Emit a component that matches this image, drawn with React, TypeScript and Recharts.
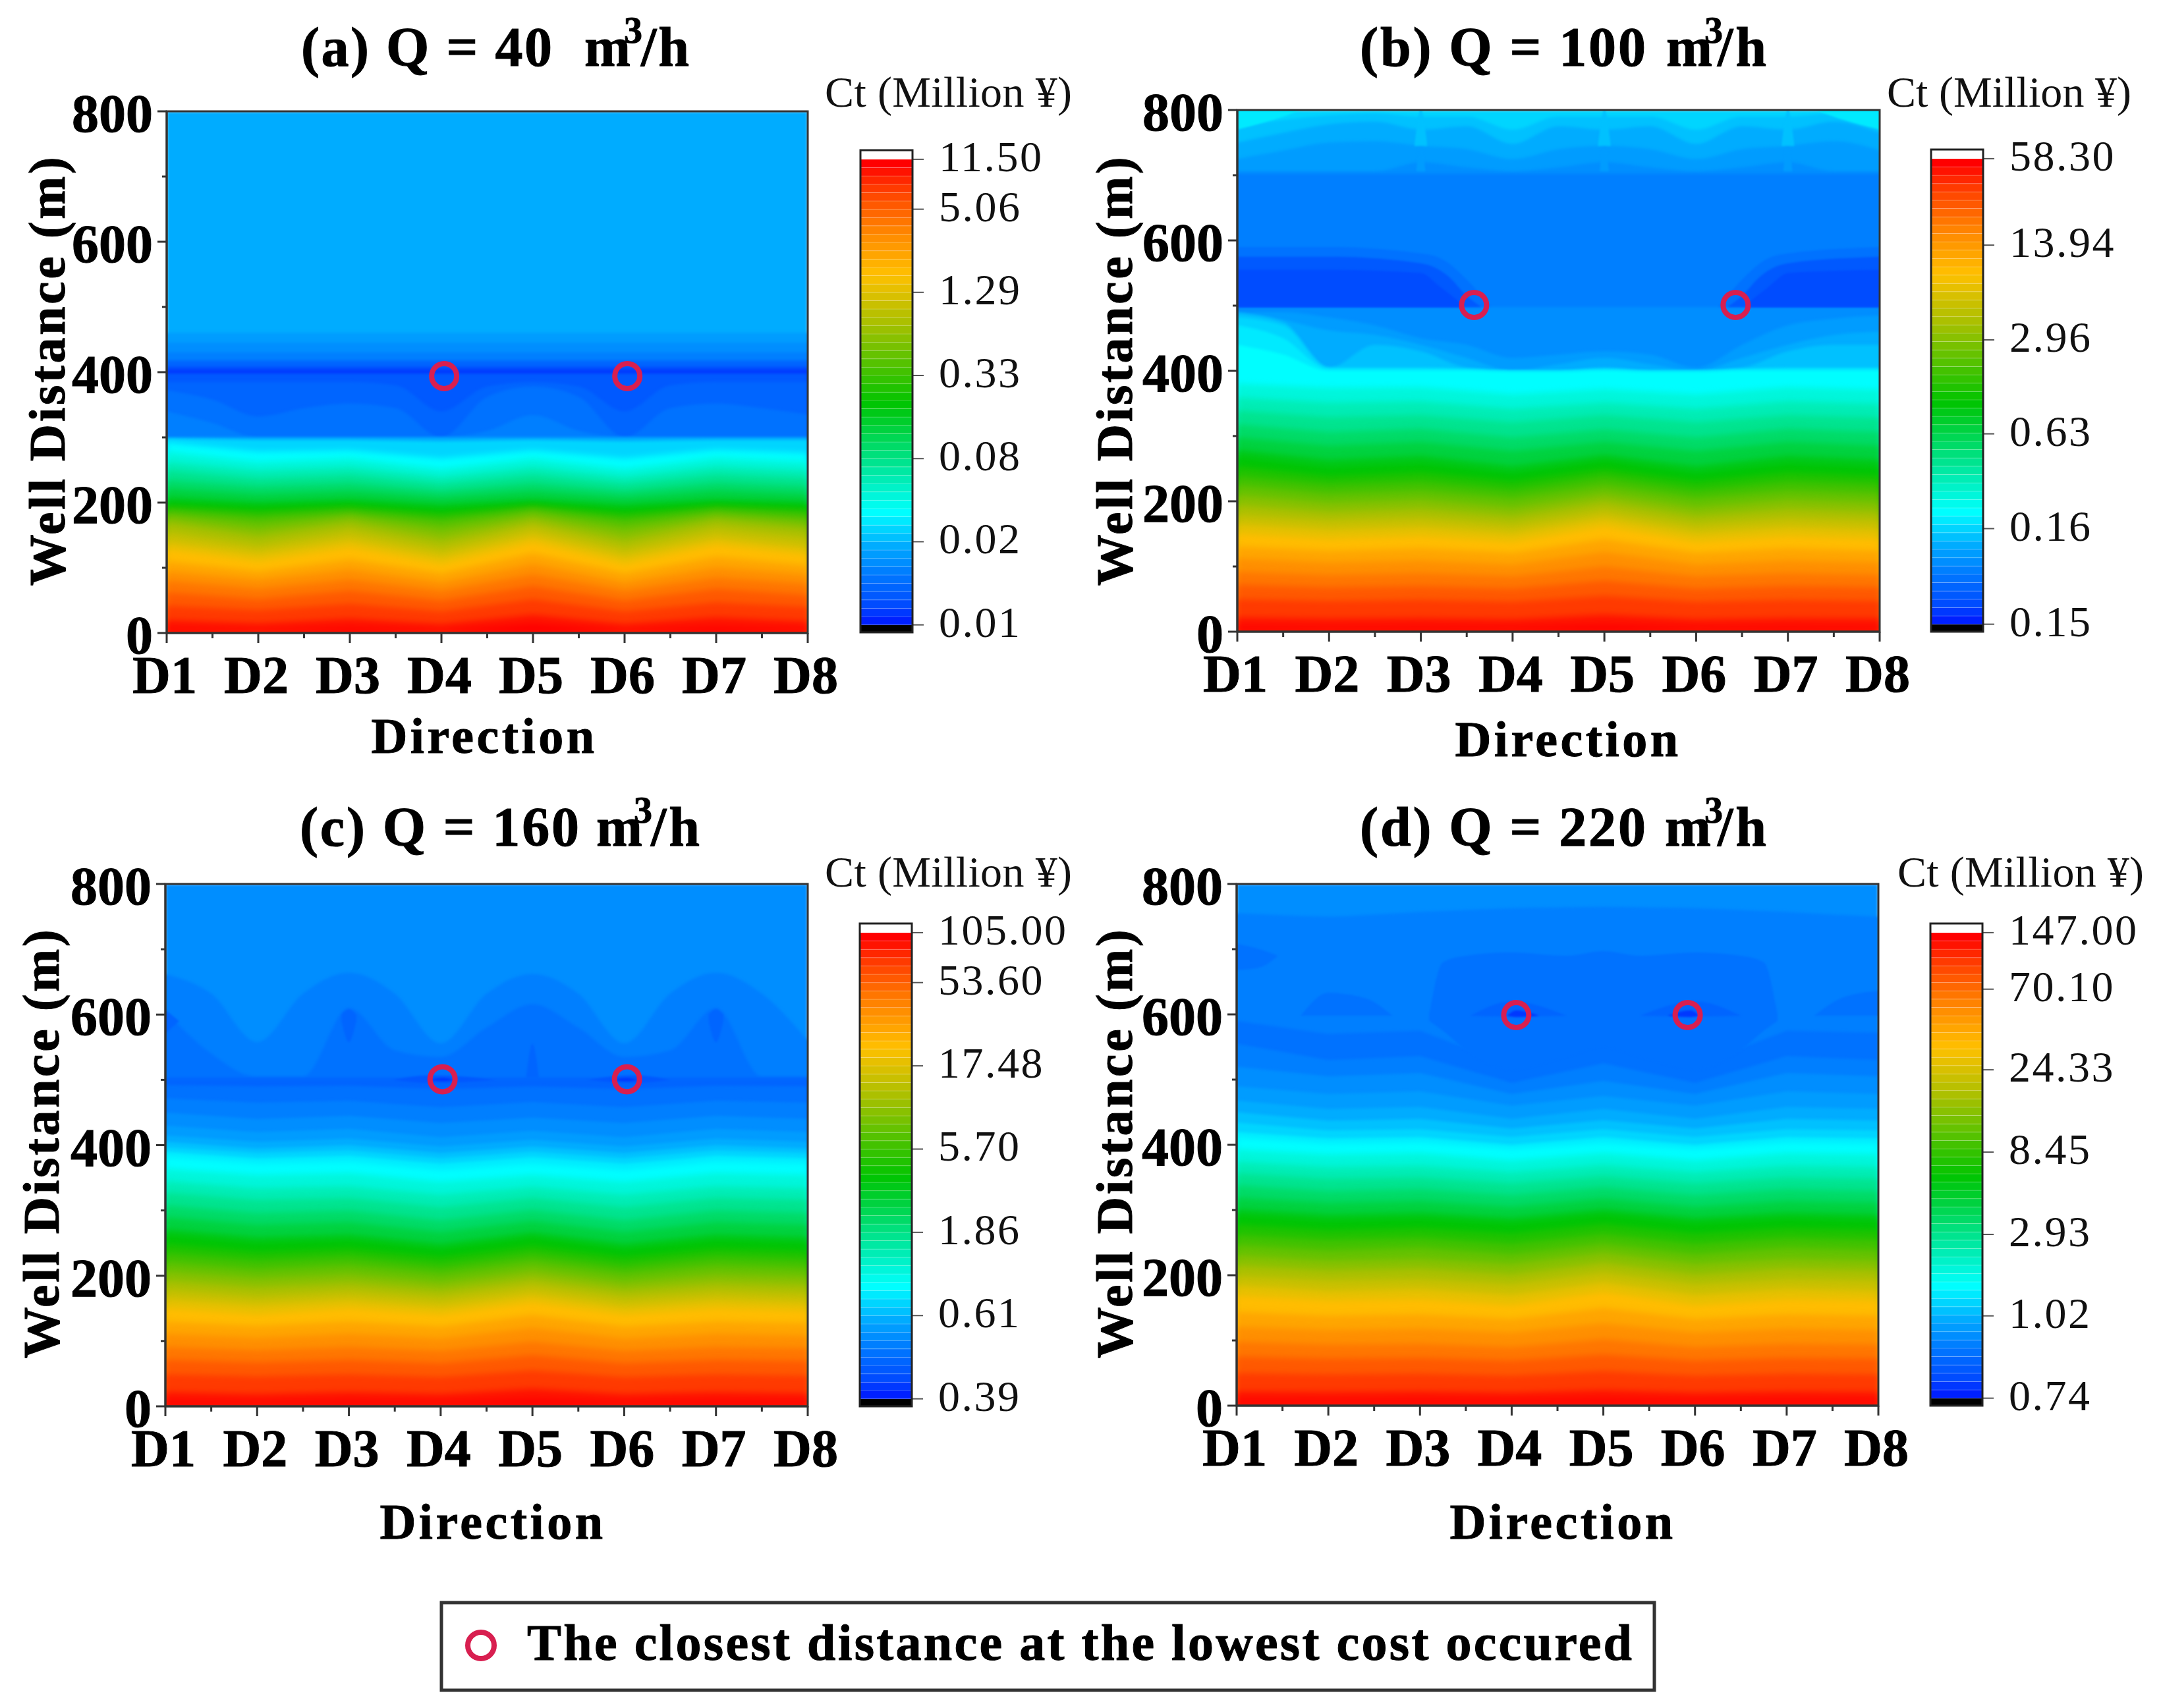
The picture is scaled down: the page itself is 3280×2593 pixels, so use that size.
import { Area, Bar, BarChart, ComposedChart, ReferenceArea, Scatter, XAxis, YAxis } from "recharts";

const directions = ["D1", "D2", "D3", "D4", "D5", "D6", "D7", "D8"];
const wholeSteps = [1, 2, 3, 4, 5, 6, 7, 8];
const halfSteps = [1, 1.5, 2, 2.5, 3, 3.5, 4, 4.5, 5, 5.5, 6, 6.5, 7, 7.5, 8];
const distanceTicks = [0, 100, 200, 300, 400, 500, 600, 700, 800];

// colour bar levels run 0 (blue) .. 55 (red)
const rampAnchors: [number, string][] = [
  [0, "#0020ff"], [0.03, "#0048ff"], [0.1, "#0078ff"], [0.16, "#00a8ff"], [0.237, "#00ffff"], [0.33, "#00e8a0"],
  [0.476, "#00c400"], [0.65, "#a8c000"], [0.757, "#ffc000"], [0.86, "#ff8000"], [0.94, "#ff4000"], [1, "#ff0000"],
];

// upper rows hold a distance at each half step, lower rows at each whole step
const aUpperLevels = [9, 8, 7, 6, 4, 2, 1, 3, 4, 5, 6];
const aUpper = [
  [800, 800, 800, 800, 800, 800, 800, 800, 800, 800, 800, 800, 800, 800, 800],
  [460, 460, 460, 460, 460, 460, 460, 460, 460, 460, 460, 460, 460, 460, 460],
  [445, 445, 445, 445, 445, 445, 445, 445, 445, 445, 445, 445, 445, 445, 445],
  [430, 430, 430, 430, 430, 430, 430, 430, 430, 430, 430, 430, 430, 430, 430],
  [418, 418, 418, 418, 418, 418, 418, 418, 418, 418, 418, 418, 418, 418, 418],
  [408, 408, 408, 408, 408, 408, 408, 408, 408, 408, 408, 408, 408, 408, 408],
  [403, 403, 403, 403, 403, 403, 403, 403, 403, 403, 403, 403, 403, 403, 403],
  [398, 398, 398, 398, 398, 398, 398, 398, 398, 398, 398, 398, 398, 398, 398],
  [385, 385, 385, 385, 385, 380, 340, 378, 385, 378, 340, 380, 385, 385, 385],
  [372, 358, 332, 345, 352, 345, 300, 362, 378, 362, 300, 345, 352, 345, 335],
  [340, 322, 300, 300, 300, 300, 300, 310, 334, 310, 300, 300, 300, 300, 300],
];
const aLowerLevels = [9, 11, 13, 15, 17, 19, 21, 23, 25, 26, 28, 30, 32, 34, 36, 38, 40, 42, 44, 46, 48, 50, 52, 54, 55];
const aLower = [
  [300, 300, 300, 300, 300, 300, 300, 300],
  [298, 296, 296, 294, 296, 294, 296, 296],
  [292, 278, 280, 268, 280, 268, 281, 276],
  [278, 263, 268, 252, 268, 252, 269, 263],
  [263, 250, 255, 240, 255, 240, 256, 250],
  [250, 237, 243, 229, 243, 229, 244, 238],
  [235, 225, 230, 218, 230, 218, 231, 225],
  [222, 213, 218, 208, 218, 208, 219, 213],
  [208, 200, 205, 197, 205, 197, 205, 201],
  [200, 195, 199, 191, 199, 191, 199, 196],
  [195, 188, 194, 184, 196, 184, 195, 190],
  [190, 181, 189, 177, 192, 177, 191, 184],
  [184, 172, 183, 168, 187, 168, 185, 176],
  [177, 160, 177, 156, 180, 156, 179, 168],
  [168, 148, 168, 143, 172, 143, 171, 158],
  [154, 134, 156, 130, 162, 130, 159, 145],
  [140, 122, 143, 118, 150, 118, 146, 131],
  [128, 110, 131, 106, 139, 106, 135, 120],
  [110, 95, 113, 92, 122, 92, 117, 104],
  [95, 82, 98, 78, 106, 78, 101, 90],
  [80, 68, 82, 65, 90, 65, 85, 75],
  [62, 52, 65, 50, 72, 50, 68, 58],
  [42, 35, 45, 33, 52, 33, 47, 40],
  [20, 15, 22, 14, 28, 14, 24, 18],
  [6, 3, 8, 3, 14, 3, 9, 5],
];
const aBlobLevels: number[] = [];
const aBlobs: number[][][] = [];
const aLowest = [{ x: 4.03, y: 394 }, { x: 6.03, y: 394 }];
const aScaleLabels = ["0.01", "0.02", "0.08", "0.33", "1.29", "5.06", "11.50"];
const aScaleTicks = [0, 10, 20, 30, 40, 50, 56];

const bUpperLevels = [11, 10, 9, 8, 7, 6, 7, 8, 9, 10, 11, 12, 13];
const bUpper = [
  [800, 800, 800, 800, 800, 800, 800, 800, 800, 800, 800, 800, 800, 800, 800],
  [775, 785, 792, 795, 790, 790, 770, 790, 790, 790, 770, 790, 790, 795, 785],
  [750, 765, 778, 782, 770, 775, 748, 775, 770, 775, 748, 775, 770, 782, 765],
  [725, 738, 750, 752, 745, 740, 725, 740, 745, 740, 725, 740, 745, 752, 738],
  [706, 706, 706, 706, 720, 712, 706, 712, 720, 712, 706, 712, 720, 706, 706],
  [702, 702, 702, 702, 702, 702, 702, 702, 702, 702, 702, 702, 702, 702, 702],
  [498, 498, 498, 498, 498, 498, 498, 498, 498, 498, 498, 498, 498, 498, 498],
  [490, 490, 482, 470, 450, 440, 420, 425, 430, 425, 405, 440, 470, 480, 485],
  [490, 478, 462, 455, 440, 420, 400, 410, 420, 410, 400, 420, 440, 455, 460],
  [488, 475, 405, 440, 430, 405, 400, 400, 405, 400, 400, 405, 430, 440, 440],
  [482, 470, 405, 405, 405, 403, 400, 400, 403, 400, 400, 403, 405, 405, 405],
  [470, 450, 403, 403, 403, 402, 400, 400, 402, 400, 400, 402, 403, 403, 403],
  [440, 425, 400, 400, 400, 400, 398, 398, 400, 398, 398, 400, 400, 400, 400],
];
const bLowerLevels = [15, 17, 19, 21, 23, 25, 26, 28, 30, 32, 34, 36, 38, 40, 42, 44, 46, 48, 50, 52, 54, 55];
const bLower = [
  [380, 374, 375, 364, 372, 364, 375, 371],
  [359, 351, 353, 342, 351, 342, 353, 349],
  [339, 329, 332, 321, 332, 321, 332, 328],
  [318, 306, 311, 298, 310, 298, 311, 306],
  [298, 285, 291, 277, 291, 277, 291, 285],
  [279, 264, 270, 254, 271, 254, 270, 264],
  [268, 252, 258, 243, 262, 243, 258, 252],
  [253, 238, 244, 230, 249, 230, 244, 238],
  [238, 225, 230, 217, 237, 217, 230, 225],
  [224, 211, 216, 204, 224, 204, 216, 211],
  [209, 197, 202, 190, 211, 190, 202, 197],
  [194, 183, 188, 177, 199, 177, 188, 183],
  [179, 170, 174, 164, 186, 164, 174, 170],
  [165, 156, 160, 151, 174, 151, 160, 156],
  [150, 142, 146, 138, 161, 138, 146, 142],
  [131, 124, 128, 121, 142, 121, 128, 124],
  [112, 106, 109, 103, 122, 103, 109, 106],
  [92, 87, 90, 85, 100, 85, 90, 87],
  [72, 68, 70, 66, 78, 66, 70, 68],
  [50, 47, 49, 46, 55, 46, 49, 47],
  [22, 20, 21, 19, 26, 19, 21, 20],
  [8, 6, 7, 6, 10, 6, 7, 6],
];
// blobs are [direction, low, high] outlines of closed patches
const bBlobLevels = [8, 8, 8, 10, 10, 10, 12, 12, 5, 5, 3, 3, 2, 2];
const bBlobs = [
  [[2.95, 706, 706], [3, 706, 760], [3.05, 706, 706]],
  [[4.95, 706, 706], [5, 706, 760], [5.05, 706, 706]],
  [[6.95, 706, 706], [7, 706, 760], [7.05, 706, 706]],
  [[2.93, 745, 745], [3, 745, 800], [3.07, 745, 745]],
  [[4.93, 745, 745], [5, 745, 800], [5.07, 745, 745]],
  [[6.93, 745, 745], [7, 745, 800], [7.07, 745, 745]],
  [[1, 770, 800], [1.5, 790, 800], [1.7, 800, 800]],
  [[7.3, 800, 800], [7.6, 785, 800], [8, 770, 800]],
  [[1, 498, 590], [2, 498, 590], [3, 498, 580], [3.25, 498, 570], [3.5, 498, 540], [3.75, 498, 500]],
  [[6.25, 498, 500], [6.5, 498, 540], [6.75, 498, 570], [7, 498, 580], [8, 498, 590]],
  [[1, 498, 575], [2, 498, 575], [3, 498, 565], [3.3, 498, 545], [3.5, 498, 515], [3.65, 498, 499]],
  [[6.35, 498, 499], [6.5, 498, 515], [6.7, 498, 545], [7, 498, 565], [8, 498, 575]],
  [[1, 498, 555], [2, 498, 555], [3, 498, 550], [3.2, 498, 530], [3.45, 498, 502]],
  [[6.55, 498, 502], [6.8, 498, 530], [7, 498, 550], [8, 498, 555]],
];
const bLowest = [{ x: 3.58, y: 501 }, { x: 6.43, y: 501 }];
const bScaleLabels = ["0.15", "0.16", "0.63", "2.96", "13.94", "58.30"];
const bScaleTicks = [0, 11.5, 22.9, 34.2, 45.6, 56];

const cUpperLevels = [7, 6, 5, 4];
const cUpper = [
  [800, 800, 800, 800, 800, 800, 800, 800, 800, 800, 800, 800, 800, 800, 800],
  [662, 632, 558, 632, 664, 632, 556, 632, 662, 632, 556, 632, 664, 632, 560],
  [605, 540, 505, 505, 610, 545, 535, 580, 616, 580, 535, 545, 610, 505, 505],
  [503, 503, 503, 503, 503, 503, 503, 503, 503, 503, 503, 503, 503, 503, 503],
];
const cLowerLevels = [5, 6, 7, 8, 9, 10, 11, 12, 13, 15, 17, 19, 21, 23, 25, 26, 28, 30, 32, 34, 36, 38, 40, 42, 44, 46, 48, 50, 52, 54, 55];
const cLower = [
  [492, 490, 491, 486, 490, 486, 491, 490],
  [472, 465, 468, 458, 466, 458, 468, 465],
  [450, 440, 445, 434, 442, 434, 445, 440],
  [430, 420, 425, 412, 422, 412, 425, 420],
  [415, 405, 410, 398, 408, 398, 410, 405],
  [405, 395, 400, 388, 398, 388, 400, 395],
  [397, 388, 392, 380, 390, 380, 392, 388],
  [390, 380, 384, 372, 382, 372, 384, 380],
  [382, 372, 375, 362, 372, 362, 375, 372],
  [364, 354, 357, 344, 354, 344, 357, 354],
  [345, 334, 337, 324, 336, 324, 337, 334],
  [327, 316, 319, 305, 319, 305, 319, 316],
  [308, 296, 300, 285, 301, 285, 300, 296],
  [290, 278, 282, 267, 284, 267, 282, 278],
  [271, 259, 263, 249, 266, 249, 263, 259],
  [262, 250, 254, 240, 258, 240, 254, 250],
  [248, 236, 241, 228, 245, 228, 241, 237],
  [234, 223, 229, 215, 233, 215, 229, 224],
  [220, 209, 216, 203, 221, 203, 216, 211],
  [206, 196, 202, 190, 208, 190, 202, 198],
  [192, 182, 189, 178, 196, 178, 189, 185],
  [178, 168, 176, 166, 184, 166, 176, 172],
  [164, 155, 163, 153, 171, 153, 163, 159],
  [150, 141, 150, 141, 159, 141, 150, 146],
  [130, 123, 130, 122, 140, 122, 130, 127],
  [111, 105, 111, 104, 120, 104, 111, 108],
  [91, 86, 91, 85, 99, 85, 91, 89],
  [71, 67, 71, 66, 78, 66, 71, 69],
  [49, 46, 49, 45, 55, 45, 49, 47],
  [22, 19, 22, 19, 27, 19, 22, 20],
  [8, 6, 8, 6, 11, 6, 8, 7],
];
const cBlobLevels = [4, 4, 4, 4, 3, 3, 1, 1];
const cBlobs = [
  [[2.92, 590, 600], [3, 558, 608], [3.08, 590, 600]],
  [[6.92, 590, 600], [7, 558, 608], [7.08, 590, 600]],
  [[1, 571, 607], [1.15, 590, 590]],
  [[4.93, 503, 503], [5, 503, 555], [5.07, 503, 503]],
  [[3.48, 500, 500], [3.9, 495, 507], [4.6, 500, 500]],
  [[5.6, 500, 500], [6.1, 495, 507], [6.5, 500, 500]],
  [[3.85, 500, 500], [4.03, 498, 503], [4.15, 500, 500]],
  [[5.85, 500, 500], [6.03, 498, 503], [6.15, 500, 500]],
];
const cLowest = [{ x: 4.02, y: 501 }, { x: 6.03, y: 501 }];
const cScaleLabels = ["0.39", "0.61", "1.86", "5.70", "17.48", "53.60", "105.00"];
const cScaleTicks = [0, 10, 20, 30, 40, 50, 56];

const dUpperLevels = [7, 6];
const dUpper = [
  [800, 800, 800, 800, 800, 800, 800, 800, 800, 800, 800, 800, 800, 800, 800],
  [755, 752, 750, 753, 757, 760, 763, 764, 765, 764, 763, 760, 757, 753, 750],
];
const dLowerLevels = [5, 6, 7, 8, 9, 10, 11, 12, 13, 15, 17, 19, 21, 23, 25, 26, 28, 30, 32, 34, 36, 38, 40, 42, 44, 46, 48, 50, 52, 54, 55];
const dLower = [
  [590, 570, 575, 522, 558, 522, 575, 572],
  [555, 530, 536, 495, 525, 495, 536, 530],
  [520, 505, 510, 478, 498, 478, 510, 505],
  [490, 478, 482, 460, 475, 460, 482, 478],
  [468, 455, 458, 440, 455, 440, 458, 455],
  [450, 437, 440, 425, 438, 425, 440, 437],
  [434, 422, 424, 412, 424, 412, 424, 422],
  [420, 410, 412, 400, 412, 400, 412, 410],
  [411, 402, 404, 394, 403, 394, 404, 402],
  [393, 385, 387, 376, 387, 376, 387, 385],
  [374, 366, 368, 358, 369, 358, 368, 366],
  [356, 348, 350, 341, 352, 341, 350, 348],
  [338, 329, 332, 323, 335, 323, 332, 329],
  [319, 311, 314, 305, 318, 305, 314, 311],
  [301, 293, 296, 288, 301, 288, 296, 293],
  [292, 284, 287, 280, 293, 280, 287, 284],
  [277, 269, 272, 264, 278, 264, 272, 269],
  [261, 254, 257, 248, 263, 248, 257, 254],
  [246, 238, 242, 232, 248, 232, 242, 238],
  [230, 222, 225, 217, 234, 217, 225, 222],
  [215, 207, 210, 201, 219, 201, 210, 207],
  [199, 192, 194, 186, 204, 186, 194, 192],
  [184, 176, 179, 170, 189, 170, 179, 176],
  [168, 161, 163, 154, 174, 154, 163, 161],
  [144, 138, 140, 133, 150, 133, 140, 138],
  [121, 116, 118, 112, 126, 112, 118, 116],
  [98, 94, 95, 90, 102, 90, 95, 94],
  [75, 72, 73, 69, 78, 69, 73, 72],
  [50, 48, 49, 46, 53, 46, 49, 48],
  [22, 21, 22, 20, 24, 20, 22, 21],
  [8, 7, 8, 7, 9, 7, 8, 7],
];
const dBlobLevels = [5, 5, 5, 5, 4, 4, 1, 1];
const dBlobs = [
  [[3.1, 590, 600], [3.25, 575, 680], [3.5, 545, 690], [4, 515, 695], [4.6, 535, 690], [5, 550, 697], [5.4, 535, 690], [6, 515, 695], [6.5, 545, 690], [6.75, 575, 680], [6.9, 590, 600]],
  [[1, 668, 708], [1.25, 672, 700], [1.45, 690, 690]],
  [[1.7, 598, 598], [2, 598, 633], [2.4, 598, 625], [2.7, 598, 598]],
  [[7.3, 598, 598], [7.6, 598, 625], [8, 598, 636]],
  [[3.55, 598, 598], [4, 597, 620], [4.6, 598, 598]],
  [[5.4, 598, 598], [6, 597, 620], [6.5, 598, 598]],
  [[3.95, 598, 598], [4.05, 596, 606], [4.3, 598, 598]],
  [[5.7, 598, 598], [5.95, 596, 606], [6.05, 598, 598]],
];
const dLowest = [{ x: 4.05, y: 599 }, { x: 5.92, y: 599 }];
const dScaleLabels = ["0.74", "1.02", "2.93", "8.45", "24.33", "70.10", "147.00"];
const dScaleTicks = [0, 9.9, 19.7, 29.6, 39.5, 49.2, 56];

const SERIF = "'Liberation Serif', serif";
const INK = "#333333";
const RING = "#d81f50";

function hexToRgb(hex: string) {
  return [1, 3, 5].map((i) => parseInt(hex.slice(i, i + 2), 16));
}

const spectrum: string[] = Array.from({ length: 56 }, (_, level) => {
  const f = level / 55;
  let i = 0;
  while (i < rampAnchors.length - 2 && f > rampAnchors[i + 1][0]) i++;
  const [f0, c0] = rampAnchors[i];
  const [f1, c1] = rampAnchors[i + 1];
  const t = (f - f0) / (f1 - f0);
  const a = hexToRgb(c0);
  const b = hexToRgb(c1);
  return `rgb(${a.map((v, k) => Math.round(v + (b[k] - v) * t)).join(",")})`;
});

function XTick({ x, y, payload }: any) {
  const whole = Number.isInteger(payload.value);
  return (
    <g>
      <line x1={x} x2={x} y1={y} y2={y + (whole ? 15 : 8)} stroke={INK} strokeWidth={3} />
      {whole && (
        <text x={x - 3} y={y + 91} textAnchor="middle" fontFamily={SERIF} fontWeight="bold" fontSize={80} fill="#000" stroke="#000" strokeWidth={1}>
          {directions[payload.value - 1]}
        </text>
      )}
    </g>
  );
}

function YTick({ x, y, payload }: any) {
  const major = payload.value % 200 === 0;
  return (
    <g>
      <line x1={x} x2={x - (major ? 14 : 7)} y1={y} y2={y} stroke={INK} strokeWidth={3} />
      {major && (
        <text x={x - 21} y={y + 31} textAnchor="end" fontFamily={SERIF} fontWeight="bold" fontSize={82} fill="#000" stroke="#000" strokeWidth={1}>
          {payload.value}
        </text>
      )}
    </g>
  );
}

function toRows(columns: number[], row: number[]) {
  return columns.map((x, i) => ({ x, y: row[i] }));
}

function toBlobRows(blob: number[][]) {
  return blob.map(([x, lo, hi]) => ({ x, range: [lo, hi] }));
}

interface ContourPanelProps {
  left: number;
  top: number;
  width: number;
  height: number;
  upperLevels: number[];
  upper: number[][];
  lowerLevels: number[];
  lower: number[][];
  blobLevels: number[];
  blobs: number[][][];
  lowest: { x: number; y: number }[];
}

function ContourPanel(props: ContourPanelProps) {
  const { left, top, width, height, upperLevels, upper, lowerLevels, lower, blobLevels, blobs, lowest } = props;
  return (
    <div style={{ position: "absolute", left: left - 240, top: top - 60 }}>
      <ComposedChart width={240 + width + 90} height={60 + height + 110} margin={{ top: 60, right: 90, bottom: 0, left: 0 }}>
        <XAxis
          dataKey="x"
          type="number"
          domain={[1, 8]}
          ticks={halfSteps}
          interval={0}
          height={110}
          allowDataOverflow
          tickSize={0}
          tickMargin={0}
          tickLine={false}
          tick={<XTick />}
          axisLine={{ stroke: INK, strokeWidth: 3 }}
        />
        <YAxis
          dataKey="y"
          type="number"
          domain={[0, 800]}
          ticks={distanceTicks}
          interval={0}
          width={240}
          allowDataOverflow
          tickSize={0}
          tickMargin={0}
          tickLine={false}
          tick={<YTick />}
          axisLine={{ stroke: INK, strokeWidth: 3 }}
        />
        {upper.map((row, i) => (
          <Area
            key={`u${i}`}
            data={toRows(halfSteps, row)}
            dataKey="y"
            type="monotoneX"
            fill={spectrum[upperLevels[i]]}
            fillOpacity={1}
            stroke="none"
            style={{ filter: "blur(2px)" }}
            dot={false}
            activeDot={false}
            isAnimationActive={false}
          />
        ))}
        {lower.map((row, i) => (
          <Area
            key={`l${i}`}
            data={toRows(wholeSteps, row)}
            dataKey="y"
            type="linear"
            fill={spectrum[lowerLevels[i]]}
            fillOpacity={1}
            stroke="none"
            style={{ filter: lowerLevels[i] < 13 ? "blur(2px)" : "blur(5px)" }}
            dot={false}
            activeDot={false}
            isAnimationActive={false}
          />
        ))}
        {blobs.map((blob, i) => (
          <Area
            key={`b${i}`}
            data={toBlobRows(blob)}
            dataKey="range"
            type="monotoneX"
            fill={spectrum[blobLevels[i]]}
            fillOpacity={1}
            stroke="none"
            style={{ filter: "blur(1.5px)" }}
            dot={false}
            activeDot={false}
            isAnimationActive={false}
          />
        ))}
        <ReferenceArea x1={1} x2={8} y1={0} y2={800} fill="none" stroke={INK} strokeWidth={3} ifOverflow="visible" />
        <Scatter
          data={lowest}
          isAnimationActive={false}
          shape={(p: any) => <circle cx={p.cx} cy={p.cy} r={19} fill="none" stroke={RING} strokeWidth={8} />}
        />
      </ComposedChart>
    </div>
  );
}

const scaleRow: Record<string, number> = { under: 0.9, over: 1.1 };
spectrum.forEach((_, i) => {
  scaleRow[`level${i}`] = 1;
});

function ColourScale({ left, top, height, ticks, labels }: { left: number; top: number; height: number; ticks: number[]; labels: string[] }) {
  const positions = ticks.map((t) => t + 0.9);
  return (
    <div style={{ position: "absolute", left, top: top - 40 }}>
      <BarChart
        width={79 + 260}
        height={height + 80}
        data={[scaleRow]}
        barCategoryGap={0}
        barGap={0}
        margin={{ top: 40, right: 0, bottom: 40, left: 0 }}
      >
        <XAxis hide type="category" />
        <YAxis
          orientation="right"
          type="number"
          domain={[0, 58]}
          ticks={positions}
          interval={0}
          width={260}
          tickSize={0}
          tickMargin={0}
          tickLine={false}
          axisLine={false}
          tick={({ x, y, payload }: any) => (
            <g>
              <line x1={x} x2={x + 17} y1={y} y2={y} stroke="#555" strokeWidth={2} />
              <text x={x + 40} y={y + 18} fontFamily={SERIF} fontSize={66} letterSpacing={2.5} fill="#111">
                {labels[positions.indexOf(payload.value)]}
              </text>
            </g>
          )}
        />
        <Bar dataKey="under" stackId="scale" fill="#000" isAnimationActive={false} />
        {spectrum.map((colour, i) => (
          <Bar
            key={i}
            dataKey={`level${i}`}
            stackId="scale"
            fill={colour}
            stroke="#fff"
            strokeOpacity={0.18}
            strokeWidth={1}
            isAnimationActive={false}
          />
        ))}
        <Bar dataKey="over" stackId="scale" fill="#fff" isAnimationActive={false} />
      </BarChart>
    </div>
  );
}

function Title({ label, labelX, labelEnd, mX, threeX, slashX, slashEnd, baseline }: any) {
  const shared = { fontFamily: SERIF, fontWeight: "bold", fill: "#000", stroke: "#000", strokeWidth: 1, y: baseline };
  return (
    <g>
      <text {...shared} x={labelX} fontSize={84} textLength={labelEnd - labelX} lengthAdjust="spacing">{label}</text>
      <text {...shared} x={mX} fontSize={84}>m</text>
      <text {...shared} x={threeX} y={baseline - 35} fontSize={56}>3</text>
      <text {...shared} x={slashX} fontSize={84} textLength={slashEnd - slashX} lengthAdjust="spacing">/h</text>
    </g>
  );
}

function AxisTitles({ dirX, dirY, wellX, wellY, ctX, ctEnd, ctY }: any) {
  return (
    <g>
      <text x={dirX} y={dirY} textAnchor="middle" fontFamily={SERIF} fontWeight="bold" fontSize={76} letterSpacing={4.5} stroke="#000" strokeWidth={1}>Direction</text>
      <text
        transform={`translate(${wellX} ${wellY}) rotate(-90)`}
        textAnchor="middle"
        fontFamily={SERIF}
        fontWeight="bold"
        fontSize={78}
        letterSpacing={3.6}
        stroke="#000"
        strokeWidth={1}
      >
        Well Distance (m)
      </text>
      <text x={ctX} y={ctY} fontFamily={SERIF} fontSize={66} textLength={ctEnd - ctX} lengthAdjust="spacing" fill="#111">Ct (Million ¥)</text>
    </g>
  );
}

function ScaleFrame({ x, y, w, h }: { x: number; y: number; w: number; h: number }) {
  return <rect x={x} y={y} width={w} height={h} fill="none" stroke="#222" strokeWidth={3} />;
}

export default function App() {
  return (
    <div style={{ position: "absolute", left: 0, top: 0, width: 3280, height: 2593, background: "#fff", overflow: "hidden" }}>
      <ContourPanel left={253} top={169} width={973} height={792} upperLevels={aUpperLevels} upper={aUpper} lowerLevels={aLowerLevels} lower={aLower} blobLevels={aBlobLevels} blobs={aBlobs} lowest={aLowest} />
      <ContourPanel left={1878} top={167} width={975} height={792} upperLevels={bUpperLevels} upper={bUpper} lowerLevels={bLowerLevels} lower={bLower} blobLevels={bBlobLevels} blobs={bBlobs} lowest={bLowest} />
      <ContourPanel left={251} top={1342} width={975} height={793} upperLevels={cUpperLevels} upper={cUpper} lowerLevels={cLowerLevels} lower={cLower} blobLevels={cBlobLevels} blobs={cBlobs} lowest={cLowest} />
      <ContourPanel left={1877} top={1342} width={974} height={792} upperLevels={dUpperLevels} upper={dUpper} lowerLevels={dLowerLevels} lower={dLower} blobLevels={dBlobLevels} blobs={dBlobs} lowest={dLowest} />

      <ColourScale left={1306} top={228} height={732} ticks={aScaleTicks} labels={aScaleLabels} />
      <ColourScale left={2931} top={227} height={732} ticks={bScaleTicks} labels={bScaleLabels} />
      <ColourScale left={1305} top={1402} height={733} ticks={cScaleTicks} labels={cScaleLabels} />
      <ColourScale left={2930} top={1402} height={732} ticks={dScaleTicks} labels={dScaleLabels} />

      <svg width={3280} height={2593} style={{ position: "absolute", left: 0, top: 0, pointerEvents: "none" }}>
        <Title label="(a) Q = 40" labelX={457} labelEnd={838} mX={887} threeX={947} slashX={973} slashEnd={1046} baseline={100} />
        <Title label="(b) Q = 100" labelX={2064} labelEnd={2498} mX={2529} threeX={2587} slashX={2607} slashEnd={2681} baseline={100} />
        <Title label="(c) Q = 160" labelX={455} labelEnd={879} mX={905} threeX={962} slashX={988} slashEnd={1062} baseline={1284} />
        <Title label="(d) Q = 220" labelX={2064} labelEnd={2498} mX={2527} threeX={2587} slashX={2607} slashEnd={2681} baseline={1284} />

        <AxisTitles dirX={735} dirY={1143} wellX={98} wellY={562} ctX={1252} ctEnd={1627} ctY={162} />
        <AxisTitles dirX={2380} dirY={1148} wellX={1718} wellY={562} ctX={2864} ctEnd={3235} ctY={162} />
        <AxisTitles dirX={748} dirY={2336} wellX={89} wellY={1735} ctX={1252} ctEnd={1627} ctY={1346} />
        <AxisTitles dirX={2372} dirY={2336} wellX={1718} wellY={1735} ctX={2880} ctEnd={3254} ctY={1346} />

        <ScaleFrame x={1306} y={228} w={79} h={732} />
        <ScaleFrame x={2931} y={227} w={79} h={732} />
        <ScaleFrame x={1305} y={1402} w={79} h={733} />
        <ScaleFrame x={2930} y={1402} w={79} h={732} />

        <rect x={670} y={2433} width={1841} height={133} fill="#fff" stroke={INK} strokeWidth={5} />
        <circle cx={730} cy={2498} r={20} fill="none" stroke={RING} strokeWidth={8} />
        <text x={800} y={2520} fontFamily={SERIF} fontWeight="bold" fontSize={78} textLength={1677} lengthAdjust="spacing" stroke="#000" strokeWidth={1}>
          The closest distance at the lowest cost occured
        </text>
      </svg>
    </div>
  );
}
